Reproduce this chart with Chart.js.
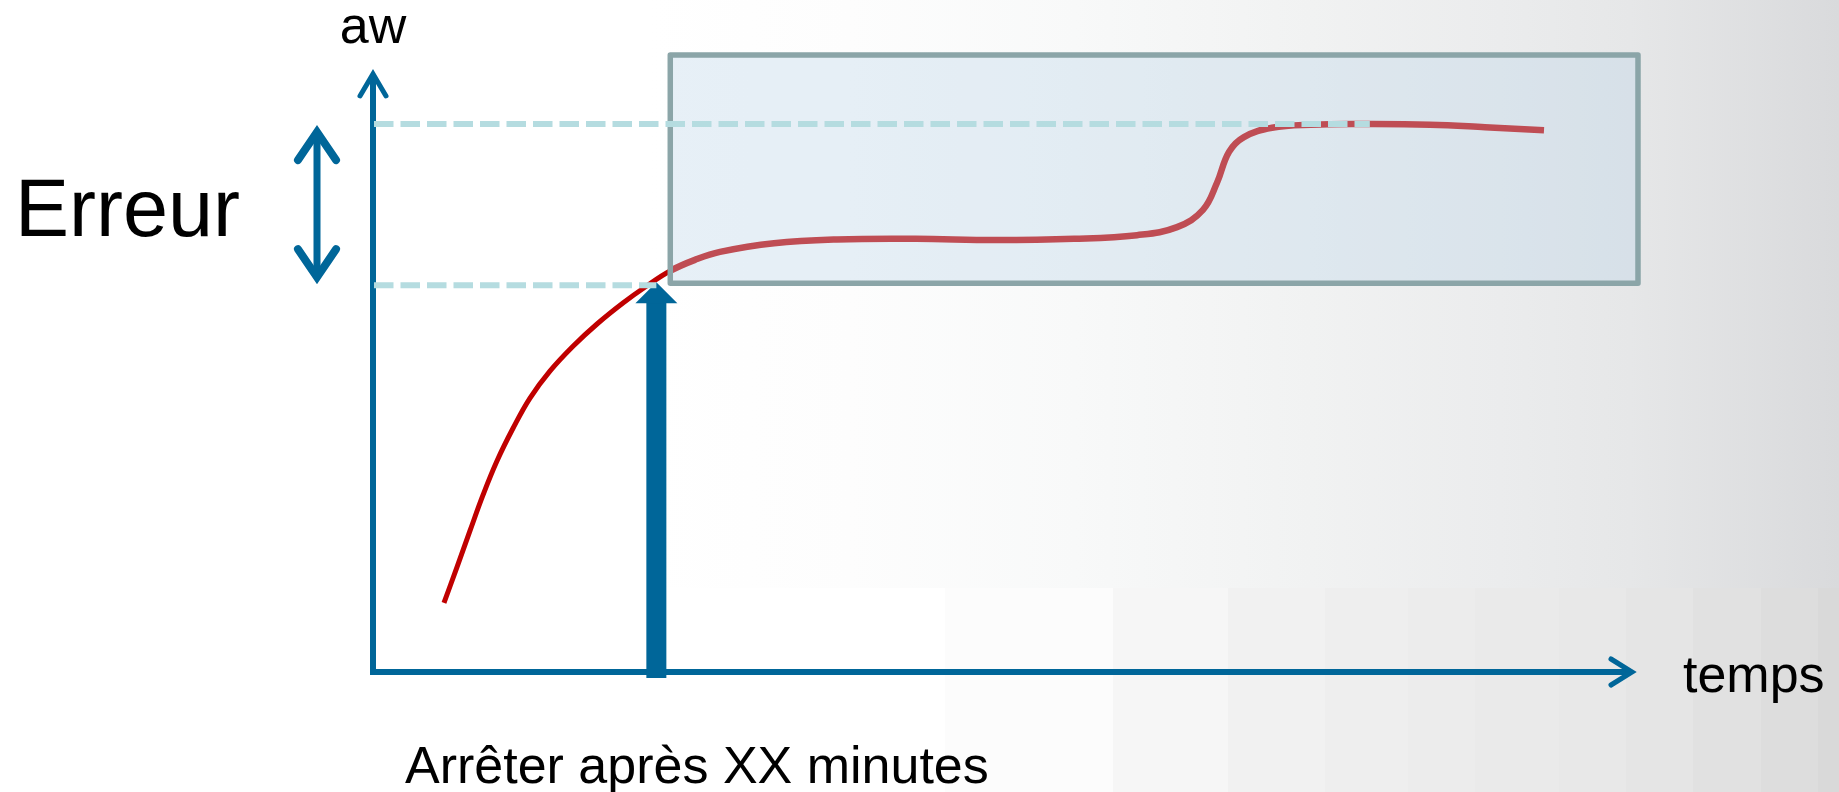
<!DOCTYPE html>
<html lang="fr">
<head>
<meta charset="utf-8">
<title>aw en fonction du temps</title>
<script src="https://cdn.jsdelivr.net/npm/chart.js@4/dist/chart.umd.min.js"></script>
<style>
  html, body { margin: 0; padding: 0; }
  body { width: 1839px; height: 792px; overflow: hidden; position: relative; background: #ffffff; }
  .bg { position: absolute; left: 0; width: 1839px; }
  #bgTop {
    top: 0; height: 588px;
    background: linear-gradient(to right,
      #ffffff 0px, #ffffff 650px, #fdfdfd 850px, #f8f9f9 1075px, #f1f2f2 1310px,
      #ebeced 1500px, #e6e7e8 1630px, #d9dadc 1839px);
  }
  #bgBottom {
    top: 588px; height: 204px;
    background: linear-gradient(to right,
      #ffffff 0px, #ffffff 945px,
      #fcfcfc 945px, #fcfcfc 1113px,
      #f6f6f6 1113px, #f6f6f6 1228px,
      #f1f1f1 1228px, #f1f1f1 1325px,
      #eeeeee 1325px, #eeeeee 1408px,
      #ececec 1408px, #ececec 1475px,
      #eaeaea 1475px, #eaeaea 1559px,
      #e8e8e8 1559px, #e8e8e8 1626px,
      #e5e5e5 1626px, #e5e5e5 1693px,
      #e1e1e1 1693px, #e1e1e1 1761px,
      #dddddd 1761px, #dddddd 1818px,
      #d9d9d9 1818px, #d9d9d9 1839px);
  }
  #chart { position: absolute; left: 0; top: 0; }
</style>
</head>
<body>
<div class="bg" id="bgTop"></div>
<div class="bg" id="bgBottom"></div>
<canvas id="chart" width="1839" height="792"></canvas>
<script>
// Drying curve: water activity (aw) against time
const timeValues = [5.61, 6.64, 7.67, 8.70, 9.80, 11.07, 12.41, 14.00, 15.81, 17.71, 19.76,
                    21.66, 23.48, 25.45, 27.43, 31.70, 36.68, 42.92, 49.17, 55.42, 60.40,
                    63.56, 65.61, 66.72, 67.67, 68.85, 71.07, 74.15, 78.81, 83.56, 87.91, 92.57];
const awValues   = [0.112, 0.170, 0.229, 0.287, 0.342, 0.395, 0.444, 0.488, 0.528, 0.564, 0.598,
                    0.626, 0.650, 0.668, 0.681, 0.695, 0.701, 0.702, 0.700, 0.702, 0.708,
                    0.721, 0.749, 0.793, 0.843, 0.867, 0.882, 0.887, 0.888, 0.887, 0.883, 0.878];

// Stopping point and the two aw levels that define the error
const stopTime = 22.4;
const awAtStop = 0.627;
const awFinal  = 0.888;
const finalReachedAt = 78.8;

// Window still to be covered after stopping
const windowStart = 23.5;
const windowEnd   = 100;
const windowLow   = 0.630;
const windowHigh  = 1.0;

// Axis extents and labels
const timeMax = 100;
const awMax = 1.0;
const awAxisTip = 0.979;
const labelAw = 'aw';
const labelTime = 'temps';
const labelError = 'Erreur';
const labelStop = 'Arrêter après XX minutes';

const BLUE = '#006699';
const RED = '#c00000';
const DASH = '#b5dce0';
const FONT = '"Liberation Sans", Arial, Helvetica, sans-serif';

const points = timeValues.map((t, i) => ({ x: t, y: awValues[i] }));

function chevron(ctx, tipX, tipY, dx1, dy1, dx2, dy2) {
  ctx.beginPath();
  ctx.moveTo(tipX + dx1, tipY + dy1);
  ctx.lineTo(tipX, tipY);
  ctx.lineTo(tipX + dx2, tipY + dy2);
  ctx.stroke();
}

const diagram = {
  id: 'diagram',
  afterDatasetsDraw(chart) {
    const ctx = chart.ctx;
    const xs = chart.scales.x, ys = chart.scales.y;
    const x0 = xs.getPixelForValue(0);
    const y0 = ys.getPixelForValue(0);
    const xEnd = xs.getPixelForValue(timeMax);
    const yTip = ys.getPixelForValue(awAxisTip);
    const yLow = ys.getPixelForValue(awAtStop);
    const yHigh = ys.getPixelForValue(awFinal);
    const xStop = xs.getPixelForValue(stopTime);

    ctx.save();

    // window box laid over the curve
    const bx1 = xs.getPixelForValue(windowStart), bx2 = xs.getPixelForValue(windowEnd);
    const by1 = ys.getPixelForValue(windowHigh), by2 = ys.getPixelForValue(windowLow);
    ctx.fillStyle = 'rgba(188, 214, 234, 0.36)';
    ctx.fillRect(bx1, by1, bx2 - bx1, by2 - by1);
    ctx.lineWidth = 5.5;
    ctx.lineJoin = 'round';
    ctx.strokeStyle = '#8ba5a8';
    ctx.strokeRect(bx1, by1, bx2 - bx1, by2 - by1);

    // axes
    ctx.strokeStyle = BLUE;
    ctx.lineWidth = 6;
    ctx.lineCap = 'butt';
    ctx.beginPath();
    ctx.moveTo(x0 - 3, y0);
    ctx.lineTo(xEnd - 6, y0);
    ctx.moveTo(x0, y0 + 3);
    ctx.lineTo(x0, yTip + 6);
    ctx.stroke();
    ctx.lineWidth = 5;
    ctx.lineCap = 'round';
    ctx.lineJoin = 'miter';
    chevron(ctx, x0, yTip + 6, -13, 22, 13, 22);
    chevron(ctx, xEnd - 6, y0, -21, -13, -21, 13);

    // stop arrow
    ctx.fillStyle = BLUE;
    const tipY = yLow - 3;
    ctx.fillRect(xStop - 10, tipY + 20, 20, (y0 + 6) - (tipY + 20));
    ctx.beginPath();
    ctx.moveTo(xStop, tipY);
    ctx.lineTo(xStop + 21, tipY + 21);
    ctx.lineTo(xStop - 21, tipY + 21);
    ctx.closePath();
    ctx.fill();

    // reference levels
    ctx.strokeStyle = DASH;
    ctx.lineWidth = 6;
    ctx.lineCap = 'butt';
    ctx.setLineDash([19.5, 7]);
    ctx.beginPath();
    ctx.moveTo(x0 + 1, yHigh);
    ctx.lineTo(xs.getPixelForValue(finalReachedAt), yHigh);
    ctx.moveTo(x0 + 1, yLow);
    ctx.lineTo(xStop, yLow);
    ctx.stroke();
    ctx.setLineDash([]);

    // error span arrow
    const ex = x0 - 56;
    ctx.strokeStyle = BLUE;
    ctx.lineWidth = 7;
    ctx.beginPath();
    ctx.moveTo(ex, yHigh + 8);
    ctx.lineTo(ex, yLow - 8);
    ctx.stroke();
    ctx.lineWidth = 8;
    ctx.lineCap = 'round';
    ctx.lineJoin = 'miter';
    chevron(ctx, ex, yHigh + 8, -19, 28, 19, 28);
    chevron(ctx, ex, yLow - 8, -19, -28, 19, -28);

    // labels
    ctx.fillStyle = '#000000';
    ctx.textBaseline = 'alphabetic';
    ctx.font = '52px ' + FONT;
    ctx.textAlign = 'center';
    ctx.fillText(labelAw, x0, yTip - 25);
    ctx.textAlign = 'left';
    ctx.fillText(labelTime, xEnd + 45, y0 + 20);
    ctx.fillText(labelStop, x0 + 32, y0 + 111);
    ctx.font = '81px ' + FONT;
    ctx.textAlign = 'right';
    ctx.fillText(labelError, ex - 77, (yHigh + yLow) / 2 + 31);

    ctx.restore();
  }
};

new Chart(document.getElementById('chart'), {
  type: 'line',
  data: {
    datasets: [{
      data: points,
      borderColor: RED,
      borderWidth: 5,
      borderCapStyle: 'butt',
      borderJoinStyle: 'round',
      pointRadius: 0,
      fill: false,
      tension: 0.4,
      segment: {
        borderWidth: c => (c.p0.parsed.x >= windowStart - 0.5 ? 6.5 : 5)
      }
    }]
  },
  options: {
    responsive: false,
    animation: false,
    devicePixelRatio: 1,
    layout: { padding: { left: 373, right: 201, top: 55, bottom: 120 } },
    plugins: { legend: { display: false }, tooltip: { enabled: false }, title: { display: false } },
    scales: {
      x: { type: 'linear', min: 0, max: timeMax, display: false },
      y: { type: 'linear', min: 0, max: awMax, display: false }
    }
  },
  plugins: [diagram]
});
</script>
</body>
</html>
